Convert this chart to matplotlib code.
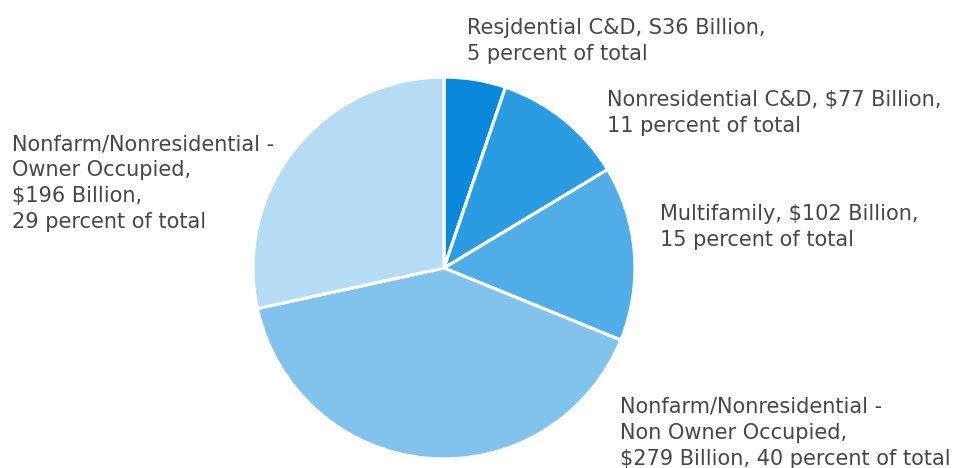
import matplotlib
matplotlib.use("Agg")
import matplotlib.pyplot as plt

W, H = 960, 468

# data
categories = [
    "Resjdential C&D",
    "Nonresidential C&D",
    "Multifamily",
    "Nonfarm/Nonresidential - Non Owner Occupied",
    "Nonfarm/Nonresidential - Owner Occupied",
]
values = [36, 77, 102, 279, 196]
labels = [
    "Resjdential C&D, S36 Billion,\n5 percent of total",
    "Nonresidential C&D, $77 Billion,\n11 percent of total",
    "Multifamily, $102 Billion,\n15 percent of total",
    "Nonfarm/Nonresidential -\nNon Owner Occupied,\n$279 Billion, 40 percent of total",
    "Nonfarm/Nonresidential -\nOwner Occupied,\n$196 Billion,\n29 percent of total",
]
colors = ["#0a88dc", "#2b9be2", "#50ade8", "#82c3ee", "#b6dbf4"]

# label anchor (left x, first line y) in pixels
label_pos = [(467, 28), (607, 100), (660, 214), (620, 407), (12, 144)]
line_step = 26

fig = plt.figure(figsize=(W / 100, H / 100), dpi=100)
cx, cy, r = 444, 268, 191
ax = fig.add_axes([(cx - r) / W, (H - cy - r) / H, 2 * r / W, 2 * r / H])
ax.pie(values, colors=colors, startangle=90, counterclock=False,
       wedgeprops=dict(edgecolor="white", linewidth=2.3))
ax.set_xlim(-1, 1)
ax.set_ylim(-1, 1)
ax.set_aspect("auto")
ax.axis("off")

for lab, (x, y) in zip(labels, label_pos):
    for i, line in enumerate(lab.split("\n")):
        fig.text(x / W, 1 - (y + i * line_step) / H, line, ha="left",
                 va="center", fontsize=15, color="#474747",
                 family=["DejaVu Sans"])

fig.savefig("out.png", dpi=100)
